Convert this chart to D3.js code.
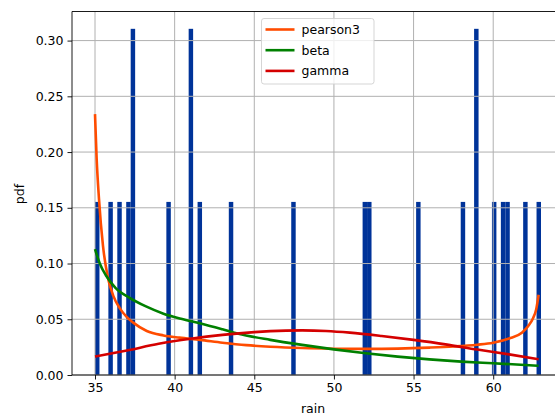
<!DOCTYPE html>
<html>
<head>
<meta charset="utf-8">
<script src="https://cdn.jsdelivr.net/npm/d3@7"></script>
<style>
  body { margin: 0; background: #fff; }
  svg { display: block; font-family: "DejaVu Sans", sans-serif; }
</style>
</head>
<body>
<div id="chart"></div>
<script>
var rain = [35.0, 35.9, 36.5, 37.05, 37.3, 37.4, 39.6, 41.0, 41.1, 41.6, 43.5, 47.4,
            52.0, 52.3, 55.25, 58.05, 59.0, 59.05, 60.1, 60.7, 61.0, 62.0, 63.0];

// fitted pdf curves
var pearsonX = [35.0, 35.1, 35.25, 35.5, 35.8, 36.15, 36.55, 37.0, 37.4, 38.25, 39.3, 40.3, 41.6, 43, 44.5, 46, 48, 50, 52, 54, 56, 57.5, 59, 60, 61, 61.8, 62.2, 62.5, 62.7, 62.85];
var pearsonY = [0.234, 0.195, 0.158, 0.116, 0.088, 0.071, 0.060, 0.052, 0.047, 0.0395, 0.0355, 0.0335, 0.0315, 0.029, 0.0268, 0.0254, 0.0242, 0.0236, 0.0234, 0.0237, 0.0246, 0.0256, 0.0272, 0.029, 0.0328, 0.038, 0.044, 0.051, 0.059, 0.072];

var betaX = [35.0, 35.3, 35.7, 36.3, 37.2, 38.2, 39.3, 40.4, 41.7, 43, 44, 46, 48, 50, 52, 54, 56, 58, 60, 62, 62.85];
var betaY = [0.113, 0.100, 0.089, 0.078, 0.069, 0.0615, 0.055, 0.0505, 0.046, 0.041, 0.037, 0.0315, 0.027, 0.023, 0.0195, 0.0165, 0.014, 0.012, 0.0105, 0.009, 0.0083];

var gammaX = [35.0, 37, 39, 41, 43, 45, 47, 48, 49.5, 51, 53, 55, 57, 59, 61, 62.85];
var gammaY = [0.0165, 0.022, 0.028, 0.0325, 0.036, 0.0385, 0.0398, 0.040, 0.0395, 0.038, 0.035, 0.0315, 0.0275, 0.0228, 0.0185, 0.0142];

var xTicks = [35, 40, 45, 50, 55, 60];
var yTicks = [0.00, 0.05, 0.10, 0.15, 0.20, 0.25, 0.30];

var seriesNames = ["pearson3", "beta", "gamma"];
var seriesColors = ["#ff4c00", "#008000", "#d40000"];

(function() {
  var W = 555, H = 416;
  var margin = {top: 11.5, left: 72},
      width = 492,
      height = 375 - margin.top;

  var svg = d3.select("#chart")
    .append("svg")
      .attr("width", W)
      .attr("height", H);

  var g = svg.append("g")
    .attr("transform", "translate(" + margin.left + "," + margin.top + ")");

  var x = d3.scaleLinear().domain([33.556, 64.444]).range([0, width]);
  var y = d3.scaleLinear().domain([0, 0.3261]).range([height, 0]);

  // histogram, 100 bins between 35 and 63, as density
  var lo = 35, hi = 63, nBins = 100, bw = (hi - lo) / nBins;
  var thresholds = d3.range(1, nBins).map(function(i) { return lo + i * bw; });
  var bins = d3.bin().domain([lo, hi]).thresholds(thresholds)(rain);

  g.selectAll(".bar")
    .data(bins.filter(function(b) { return b.length > 0; }))
    .enter()
    .append("rect")
      .attr("class", "bar")
      .attr("x", function(d) { return x(d.x0); })
      .attr("width", function(d) { return x(d.x1) - x(d.x0); })
      .attr("y", function(d) { return y(d.length / (rain.length * bw)); })
      .attr("height", function(d) { return height - y(d.length / (rain.length * bw)); })
      .attr("fill", "#003399");

  // grid (above bars, below lines)
  g.selectAll(".gx")
    .data(xTicks)
    .enter().append("line")
      .attr("x1", function(d) { return x(d); })
      .attr("x2", function(d) { return x(d); })
      .attr("y1", 0).attr("y2", height)
      .attr("stroke", "#b0b0b0").attr("stroke-width", 1);
  g.selectAll(".gy")
    .data(yTicks)
    .enter().append("line")
      .attr("x1", 0).attr("x2", width)
      .attr("y1", function(d) { return y(d); })
      .attr("y2", function(d) { return y(d); })
      .attr("stroke", "#b0b0b0").attr("stroke-width", 1);

  // pdf lines
  var line = d3.line()
    .x(function(d) { return x(d[0]); })
    .y(function(d) { return y(d[1]); })
    .curve(d3.curveMonotoneX);

  var curves = [
    d3.zip(pearsonX, pearsonY),
    d3.zip(betaX, betaY),
    d3.zip(gammaX, gammaY)
  ];

  // draw order as in the original: pearson3, beta, gamma
  curves.forEach(function(c, i) {
    g.append("path")
      .datum(c)
      .attr("d", line)
      .attr("fill", "none")
      .attr("stroke", seriesColors[i])
      .attr("stroke-width", 2.6)
      .attr("stroke-linejoin", "round");
  });

  // axes
  var xAxis = g.append("g")
    .attr("transform", "translate(0," + height + ")")
    .call(d3.axisBottom(x).tickValues(xTicks).tickSize(4.5).tickPadding(4).tickFormat(d3.format("d")));
  var yAxis = g.append("g")
    .call(d3.axisLeft(y).tickValues(yTicks).tickSize(4.5).tickPadding(4).tickFormat(d3.format(".2f")));

  [xAxis, yAxis].forEach(function(a) {
    a.select(".domain").remove();
    a.selectAll("text").attr("font-size", 12.5).attr("font-family", "DejaVu Sans").attr("fill", "#000");
    a.selectAll("line").attr("stroke", "#000").attr("stroke-width", 0.9);
  });

  // spines (right spine falls outside the window)
  g.append("line").attr("x1", 0).attr("x2", 0).attr("y1", 0).attr("y2", height)
    .attr("stroke", "#000").attr("stroke-width", 0.9);
  g.append("line").attr("x1", 0).attr("x2", width).attr("y1", height).attr("y2", height)
    .attr("stroke", "#000").attr("stroke-width", 0.9);
  g.append("line").attr("x1", 0).attr("x2", width).attr("y1", 0).attr("y2", 0)
    .attr("stroke", "#000").attr("stroke-width", 0.9);

  // axis labels
  svg.append("text")
    .attr("x", 313).attr("y", 413)
    .attr("text-anchor", "middle")
    .attr("font-size", 12.5)
    .text("rain");

  svg.append("text")
    .attr("transform", "translate(24,194) rotate(-90)")
    .attr("text-anchor", "middle")
    .attr("font-size", 12.5)
    .text("pdf");

  // legend
  var legend = svg.append("g").attr("transform", "translate(261.5,18.5)");
  legend.append("rect")
    .attr("width", 112.5).attr("height", 65.5)
    .attr("rx", 2.5)
    .attr("fill", "#fff").attr("fill-opacity", 0.8)
    .attr("stroke", "#d0d0d0").attr("stroke-width", 0.9);

  var items = legend.selectAll(".item")
    .data(seriesNames)
    .enter().append("g")
      .attr("transform", function(d, i) { return "translate(0," + (11 + i * 20.7) + ")"; });
  items.append("line")
    .attr("x1", 4).attr("x2", 33)
    .attr("stroke", function(d, i) { return seriesColors[i]; })
    .attr("stroke-width", 2.6);
  items.append("text")
    .attr("x", 40).attr("y", 4.5)
    .attr("font-size", 12.5)
    .text(function(d) { return d; });
})();
</script>
</body>
</html>
